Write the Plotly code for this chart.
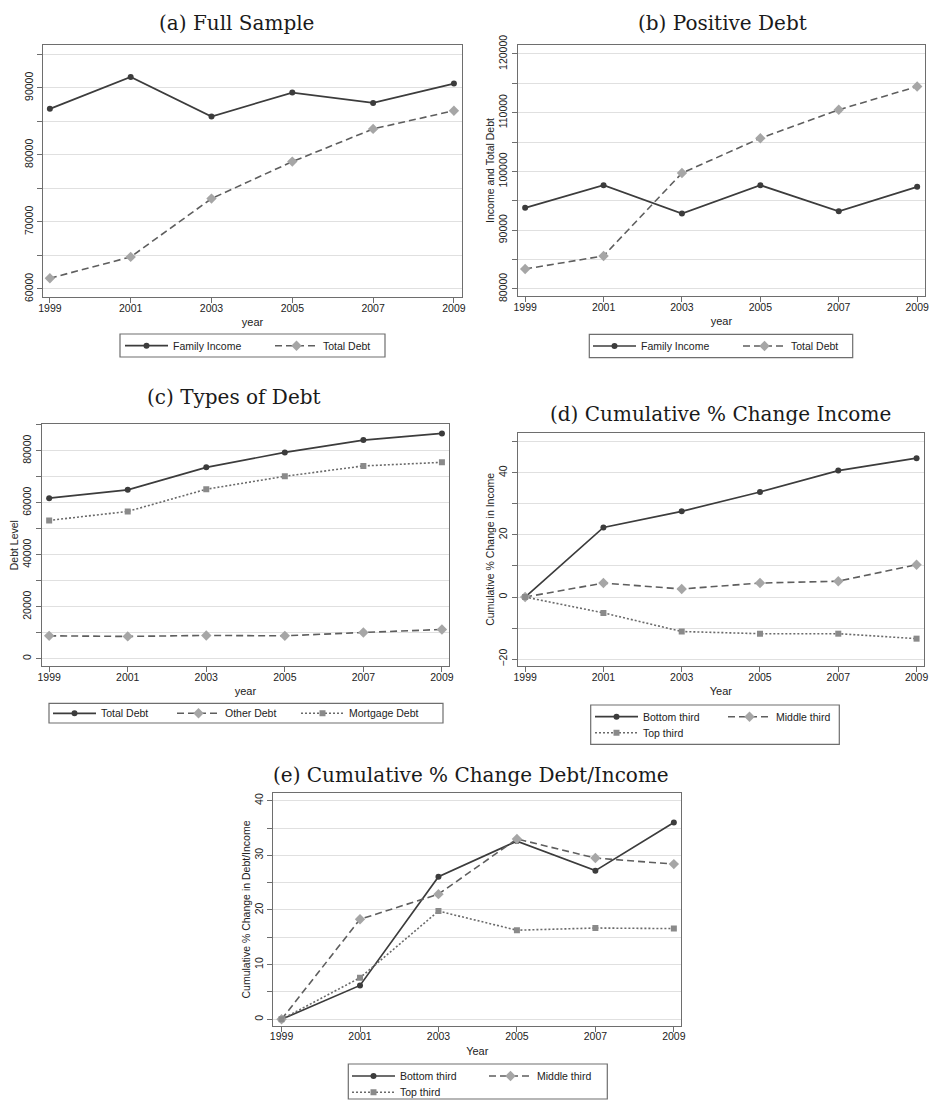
import plotly.graph_objects as go

# ---------------- data ----------------
years = [1999, 2001, 2003, 2005, 2007, 2009]

a_income = [86870, 91640, 85720, 89300, 87760, 90640]
a_debt = [61600, 64780, 73480, 79000, 83880, 86600]

b_income = [93810, 97660, 92840, 97660, 93230, 97380]
b_debt = [83400, 85620, 99730, 105660, 110510, 114470]

c_total = [61760, 64980, 73640, 79390, 84140, 86690]
c_other = [8810, 8580, 8960, 8810, 10110, 11260]
c_mortgage = [53220, 56670, 65210, 70190, 74180, 75560]

d_bottom = [0, 22.4, 27.6, 33.8, 40.7, 44.7]
d_middle = [0, 4.5, 2.6, 4.5, 5.1, 10.4]
d_top = [0, -5.1, -11.1, -11.8, -11.8, -13.4]

e_bottom = [0, 6.2, 26.1, 32.6, 27.2, 36.0]
e_middle = [0, 18.3, 22.9, 33.0, 29.5, 28.4]
e_top = [0, 7.6, 19.8, 16.3, 16.7, 16.6]

panel_titles = ["(a) Full Sample", "(b) Positive Debt", "(c) Types of Debt",
                "(d) Cumulative % Change Income", "(e) Cumulative % Change Debt/Income"]
x_titles = ["year", "year", "year", "Year", "Year"]
y_titles = ["", "Income and Total Debt", "Debt Level",
            "Cumulative % Change in Income", "Cumulative % Change in Debt/Income"]

# ---------------- style ----------------
W, H = 931, 1100
AX = "#6e6e6e"
GRID = "#e0e0e0"
TXT = "#222222"
SANS = "Liberation Sans, Arial, sans-serif"
SERIF = "DejaVu Serif, serif"

S1 = dict(line=dict(color="#3c3c3c", width=1.7, dash="solid"),
          marker=dict(symbol="circle", size=6, color="#3c3c3c"))
S2 = dict(line=dict(color="#5e5e5e", width=1.6, dash="7px,4px"),
          marker=dict(symbol="diamond", size=8, color="#a6a6a6"))
S3 = dict(line=dict(color="#6a6a6a", width=1.6, dash="2px,2px"),
          marker=dict(symbol="square", size=6, color="#8a8a8a"))


def px_x(v):
    return v / W


def px_y(v):
    return 1 - v / H


# plot boxes in pixels: (left, right, top, bottom)
boxes = [(43, 462, 45, 297), (517.7, 925, 45, 296), (41.7, 449, 424.3, 666),
         (517.7, 924, 432.7, 666), (273.3, 681.3, 793.3, 1025.7)]
xranges = [[1998.83, 2009.2], [1998.81, 2009.2], [1998.81, 2009.18],
           [1998.81, 2009.19], [1998.79, 2009.19]]
yranges = [[58800, 96400], [78800, 121530], [-2800, 90200], [-22.2, 52.9], [-1.17, 41.35]]
ytick0 = [60000, 80000, 0, -20, 0]
ydtick = [10000, 10000, 20000, 20, 10]
yminor = [5000, 5000, 10000, 10, 5]

fig = go.Figure()

series = [
    [(a_income, "Family Income", S1, "legend"), (a_debt, "Total Debt", S2, "legend")],
    [(b_income, "Family Income", S1, "legend2"), (b_debt, "Total Debt", S2, "legend2")],
    [(c_total, "Total Debt", S1, "legend3"), (c_other, "Other Debt", S2, "legend3"),
     (c_mortgage, "Mortgage Debt", S3, "legend3")],
    [(d_bottom, "Bottom third", S1, "legend4"), (d_middle, "Middle third", S2, "legend4"),
     (d_top, "Top third", S3, "legend5")],
    [(e_bottom, "Bottom third", S1, "legend6"), (e_middle, "Middle third", S2, "legend6"),
     (e_top, "Top third", S3, "legend7")],
]

for i, group in enumerate(series):
    xa = "x" if i == 0 else f"x{i+1}"
    ya = "y" if i == 0 else f"y{i+1}"
    for vals, name, st, lg in group:
        fig.add_trace(go.Scatter(x=years, y=vals, name=name, mode="lines+markers",
                                 line=st["line"], marker=st["marker"],
                                 xaxis=xa, yaxis=ya, legend=lg))

layout = {}
tickfont = dict(family=SANS, size=10.5, color=TXT)
for i in range(5):
    l, r, t, b = boxes[i]
    xk = "xaxis" if i == 0 else f"xaxis{i+1}"
    yk = "yaxis" if i == 0 else f"yaxis{i+1}"
    xa = "x" if i == 0 else f"x{i+1}"
    ya = "y" if i == 0 else f"y{i+1}"
    layout[xk] = dict(domain=[px_x(l), px_x(r)], range=xranges[i], anchor=ya,
                      tickmode="linear", tick0=1999, dtick=2, ticks="outside",
                      ticklen=5, tickwidth=1, tickcolor=AX, showline=True,
                      linecolor=AX, linewidth=1.3, mirror=True, showgrid=False,
                      zeroline=False, tickfont=tickfont, automargin=False,
                      ticklabelstandoff=-4,
                      title=dict(text=x_titles[i], font=dict(family=SANS, size=11, color=TXT),
                                 standoff=5))
    layout[yk] = dict(domain=[px_y(b), px_y(t)], range=yranges[i], anchor=xa,
                      tickmode="linear", tick0=ytick0[i], dtick=ydtick[i], tickangle=-90,
                      tickformat="d", exponentformat="none",
                      ticks="outside", ticklen=5, tickwidth=1, tickcolor=AX,
                      showline=True, linecolor=AX, linewidth=1.3, mirror=True,
                      showgrid=True, gridcolor=GRID, gridwidth=1.3, zeroline=False,
                      tickfont=tickfont, automargin=False,
                      minor=dict(tick0=ytick0[i], dtick=yminor[i], ticks="outside",
                                 ticklen=5, tickcolor=AX, showgrid=True,
                                 gridcolor=GRID, gridwidth=1.3),
                      title=dict(text=y_titles[i], font=dict(family=SANS, size=10.5, color=TXT),
                                 standoff=0))

# panel titles
title_pos = [(236.5, 23), (722.5, 23), (234, 397), (720.8, 414), (471.3, 775)]
annotations = []
for (cx, cy), txt in zip(title_pos, panel_titles):
    annotations.append(dict(text=txt, x=px_x(cx), y=px_y(cy), xref="paper", yref="paper",
                            xanchor="center", yanchor="middle", showarrow=False,
                            font=dict(family=SERIF, size=20, color="#1a1a1a")))

# legend boxes (pixels) and legends
legend_boxes = [(120, 385, 334, 357), (589.3, 852.7, 334.3, 357.7), (49, 443, 703.3, 723),
                (590.7, 839.3, 705, 744.3), (348.3, 607.3, 1064, 1099)]
shapes = []
for (l, r, t, b) in legend_boxes:
    shapes.append(dict(type="rect", xref="paper", yref="paper", x0=px_x(l), x1=px_x(r),
                       y0=px_y(b), y1=px_y(t), line=dict(color=AX, width=1.2),
                       fillcolor="rgba(0,0,0,0)"))

legfont = dict(family=SANS, size=10.5, color=TXT)


def leg(x, y, ew):
    return dict(x=px_x(x), y=px_y(y), xanchor="left", yanchor="middle", orientation="h",
                bgcolor="rgba(0,0,0,0)", borderwidth=0, font=legfont, itemwidth=43,
                entrywidth=ew, entrywidthmode="pixels", itemclick=False)


layout["legend"] = leg(120, 345.7, 92)
layout["legend2"] = leg(588, 346, 92)
layout["legend3"] = leg(48, 713.3, 66)
layout["legend4"] = leg(590, 716.7, 75)
layout["legend5"] = leg(590, 732.7, 75)
layout["legend6"] = leg(347, 1076, 79)
layout["legend7"] = leg(347, 1092.3, 79)

fig.update_layout(**layout)
fig.update_layout(width=W, height=H, margin=dict(l=0, r=0, t=0, b=0, autoexpand=False),
                  paper_bgcolor="white", plot_bgcolor="white",
                  annotations=annotations, shapes=shapes, showlegend=True)

fig.write_html("out.html", config={"displayModeBar": False},
               post_script="document.body.style.margin='0px';document.body.style.overflow='hidden';")
